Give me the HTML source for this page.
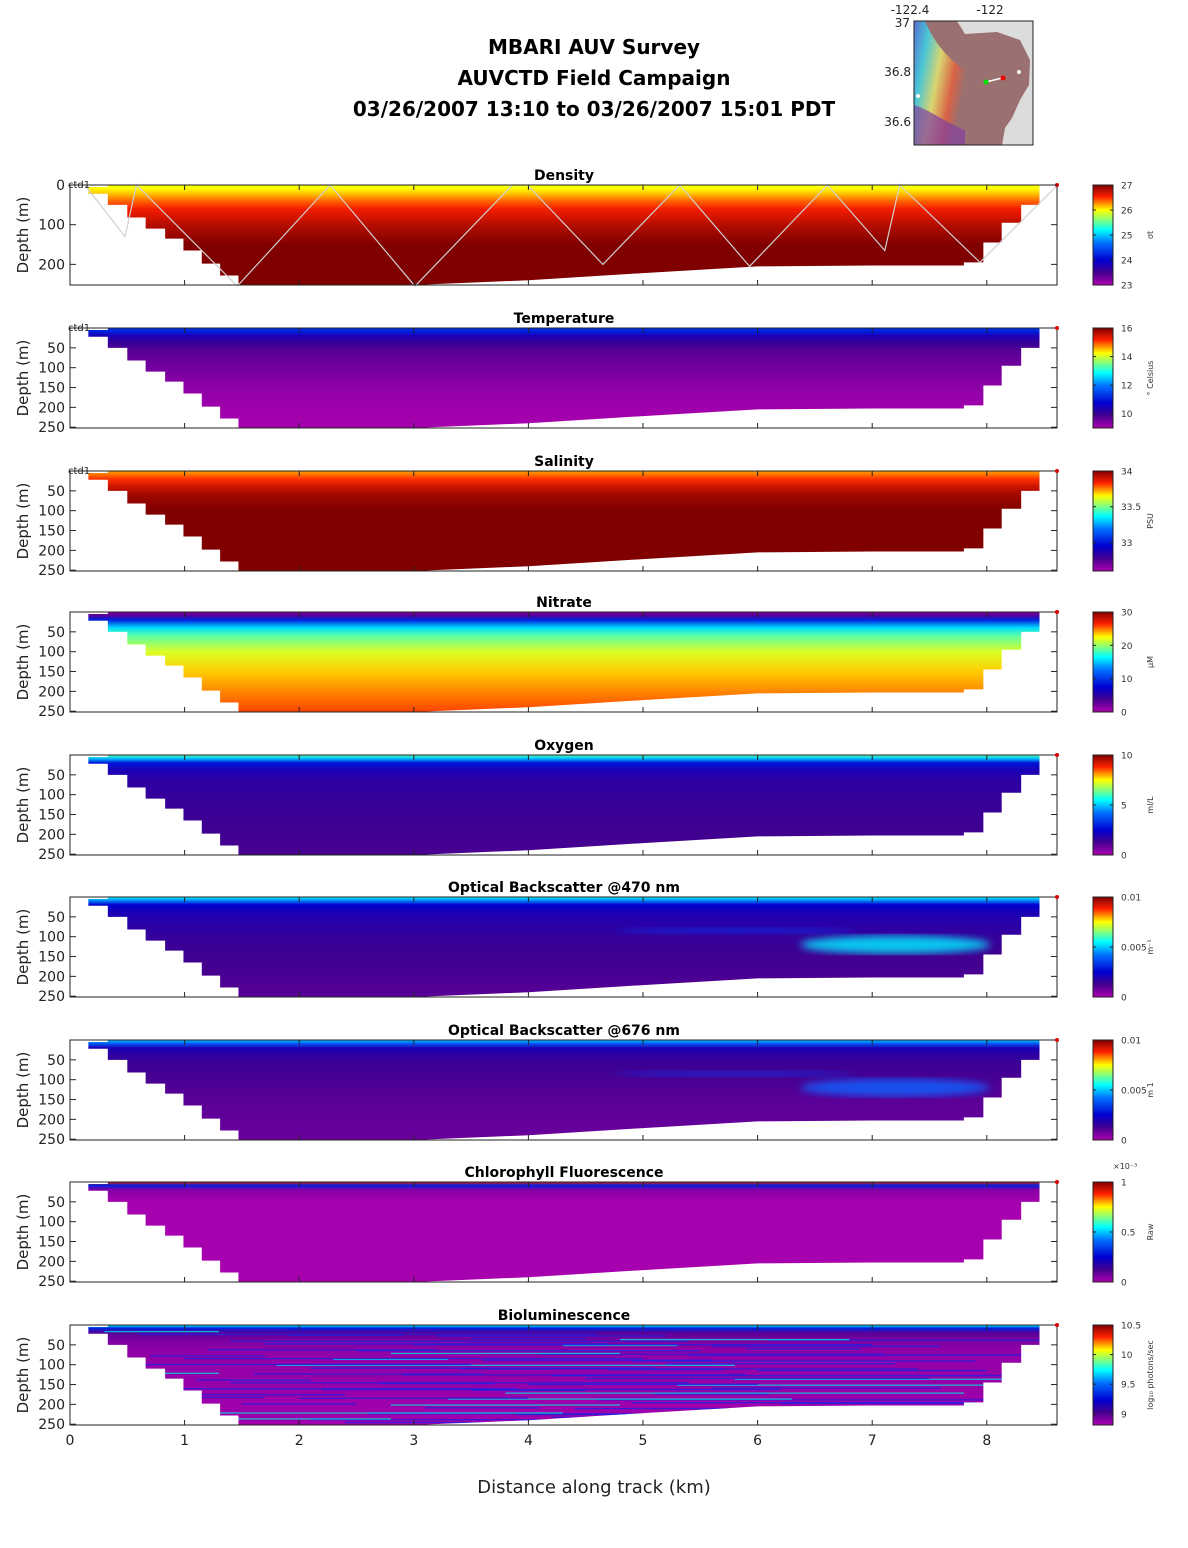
<!DOCTYPE html>
<html><head><meta charset="utf-8">
<style>
html,body{margin:0;padding:0;background:#fff;}
svg{display:block;font-family:"DejaVu Sans","Liberation Sans",sans-serif;}
</style></head>
<body>
<svg id="fig" width="1188" height="1548" viewBox="0 0 1188 1548" xmlns="http://www.w3.org/2000/svg">
<defs>
<linearGradient id="jet" x1="0" y1="1" x2="0" y2="0">
<stop offset="0" stop-color="#b000b0"/><stop offset="0.13" stop-color="#400090"/><stop offset="0.25" stop-color="#0000d0"/><stop offset="0.42" stop-color="#0070ff"/><stop offset="0.55" stop-color="#00ffff"/><stop offset="0.66" stop-color="#90ff70"/><stop offset="0.75" stop-color="#ffff00"/><stop offset="0.88" stop-color="#ff2000"/><stop offset="1" stop-color="#800000"/>
</linearGradient>
<filter id="blur"><feGaussianBlur stdDeviation="4"/></filter>
<linearGradient id="land" x1="0" y1="0" x2="1" y2="0.3">
<stop offset="0" stop-color="#5070e0"/><stop offset="0.2" stop-color="#40d0e0"/><stop offset="0.4" stop-color="#e0e070"/><stop offset="0.6" stop-color="#e06040"/><stop offset="0.75" stop-color="#9a7070"/>
</linearGradient>
</defs>
<g font-weight="bold" font-size="20" text-anchor="middle" fill="#000">
<text x="594" y="54">MBARI AUV Survey</text>
<text x="594" y="85">AUVCTD Field Campaign</text>
<text x="594" y="116">03/26/2007 13:10  to 03/26/2007 15:01 PDT</text>
</g>
<g>
<rect x="914" y="21" width="119" height="124" fill="#dcdcdc"/>
<path d="M914 21 H957 L965 34 L997 32 L1020 40 L1030 60 L1029 85 L1020 100 L1012 118 L1005 128 L1002 145 H914 Z" fill="#9a7070"/>
<path d="M914 21 H925 C935 45 950 60 965 70 C975 80 985 85 990 95 C980 110 990 130 985 145 H914 Z" fill="url(#land)" opacity="0.9"/>
<path d="M914 105 C930 110 950 125 965 130 V145 H914 Z" fill="#8040a0" opacity="0.7"/>
<line x1="986" y1="82" x2="1002" y2="78" stroke="#fff" stroke-width="1.5"/>
<circle cx="986" cy="82" r="2.5" fill="#00e000"/><circle cx="1003" cy="78" r="2.5" fill="#f00000"/>
<circle cx="1019" cy="72" r="2" fill="#fff"/><circle cx="918" cy="96" r="2" fill="#fff"/>
<rect x="914" y="21" width="119" height="124" fill="none" stroke="#222" stroke-width="1"/>
<g font-size="12" fill="#222"><text x="910" y="14" text-anchor="middle">-122.4</text><text x="990" y="14" text-anchor="middle">-122</text>
<text x="910" y="27" text-anchor="end">37</text><text x="911" y="76" text-anchor="end">36.8</text><text x="911" y="126" text-anchor="end">36.6</text></g>
</g>
<g id="panels"></g>
<g id="xaxis"></g>
<text x="594" y="1493" font-size="18" text-anchor="middle" fill="#222">Distance along track (km)</text>
</svg>
<script>
// ---- data ----
const xTicks=[0,1,2,3,4,5,6,7,8];
const stepEdgesLeft=[0.16,0.33,0.5,0.66,0.83,0.99,1.15,1.31,1.47];
const stepDepthsLeft=[22,50,82,110,135,165,198,228,252];
const slopeDist=[3.0,4.0,5.0,6.0,7.0,7.8];
const slopeDepth=[252,240,222,205,203,203];
const stepEdgesRight=[7.8,7.97,8.13,8.3,8.46];
const stepDepthsRight=[195,145,95,50];
const trackDist=[0.13,0.48,0.58,1.46,2.27,3.01,3.86,3.99,4.65,5.32,5.93,6.61,7.11,7.24,7.94,8.62];
const trackDepth=[0,130,0,255,0,255,0,0,200,0,205,0,165,0,195,0];
const panelTitles=["Density","Temperature","Salinity","Nitrate","Oxygen","Optical Backscatter @470 nm","Optical Backscatter @676 nm","Chlorophyll Fluorescence","Bioluminescence"];
const cbMin=[23,9,32.6,0,0,0,0,0,8.81];
const cbMax=[27,16,34,30,10,0.01,0.01,1,10.5];
const cbTicks=[[23,24,25,26,27],[10,12,14,16],[33,33.5,34],[0,10,20,30],[0,5,10],[0,0.005,0.01],[0,0.005,0.01],[0,0.5,1],[9,9.5,10,10.5]];
const cbUnits=["σt","° Celsius","PSU","μM","ml/L","m⁻¹","m 1","Raw","log₁₀ photons/sec"];
// vertical profiles: depth (m) -> colormap fraction
const profDepth=[0,8,20,40,60,100,150,200,255];
const profFrac=[
 [0.74,0.75,0.78,0.84,0.89,0.95,1,1,1],
 [0.33,0.3,0.2,0.14,0.1,0.07,0.04,0.02,0.01],
 [0.8,0.83,0.87,0.93,0.97,1,1,1,1],
 [0.05,0.1,0.3,0.52,0.62,0.72,0.78,0.82,0.86],
 [0.62,0.5,0.28,0.2,0.17,0.15,0.14,0.13,0.12],
 [0.55,0.45,0.25,0.2,0.18,0.15,0.13,0.12,0.1],
 [0.5,0.4,0.2,0.16,0.14,0.12,0.1,0.09,0.08],
 [0.9,0.3,0.05,0.02,0.01,0.01,0.01,0.01,0.01],
 [0.55,0.3,0.1,0.06,0.04,0.03,0.03,0.02,0.02]];
// ---- layout ----
const X0=70,X1=1057,KM=114.6,DMAX=252,PH=100;
const tops=[185,328,471,612,755,897,1040,1182,1325];
const xs=d=>X0+d*KM;
const NS="http://www.w3.org/2000/svg";
function el(t,a,p){const e=document.createElementNS(NS,t);for(const k in a)e.setAttribute(k,a[k]);if(p)p.appendChild(e);return e;}
const jetStops=[[0,[176,0,176]],[0.13,[64,0,144]],[0.25,[0,0,208]],[0.42,[0,112,255]],[0.55,[0,255,255]],[0.66,[144,255,112]],[0.75,[255,255,0]],[0.88,[255,32,0]],[1,[128,0,0]]];
function jet(f){f=Math.max(0,Math.min(1,f));for(let i=1;i<jetStops.length;i++){if(f<=jetStops[i][0]){const a=jetStops[i-1],b=jetStops[i],t=(f-a[0])/(b[0]-a[0]);return 'rgb('+a[1].map((v,j)=>Math.round(v+(b[1][j]-v)*t)).join(',')+')';}}return 'rgb(128,0,0)';}
const defs=document.querySelector('defs');
const root=document.getElementById('panels');
function sectionPath(top){
 const ys=d=>top+d/DMAX*PH;
 let p='M'+xs(0.16)+' '+ys(5)+' L'+xs(0.33)+' '+ys(5)+' L'+xs(0.33)+' '+ys(0)+' L'+xs(8.46)+' '+ys(0);
 for(let i=stepDepthsRight.length-1;i>=0;i--){p+=' L'+xs(stepEdgesRight[i+1])+' '+ys(stepDepthsRight[i])+' L'+xs(stepEdgesRight[i])+' '+ys(stepDepthsRight[i]);}
 for(let i=slopeDist.length-1;i>=0;i--)p+=' L'+xs(slopeDist[i])+' '+ys(slopeDepth[i]);
 for(let i=stepDepthsLeft.length-1;i>=0;i--){p+=' L'+xs(stepEdgesLeft[i])+' '+ys(stepDepthsLeft[i]);if(i>0)p+=' L'+xs(stepEdgesLeft[i])+' '+ys(stepDepthsLeft[i-1]);}
 return p+' Z';
}
tops.forEach((top,k)=>{
 const g=el('g',{},root);
 
 
 const gid='pg'+k;
 const lg=el('linearGradient',{id:gid,gradientUnits:'userSpaceOnUse',x1:0,y1:top,x2:0,y2:top+PH},defs);
 profDepth.forEach((d,i)=>el('stop',{offset:d/DMAX>1?1:d/DMAX,'stop-color':jet(profFrac[k][i])},lg));
 const cp=el('clipPath',{id:'cp'+k},defs);
 el('path',{d:sectionPath(top)},cp);
 const sec=el('g',{'clip-path':'url(#cp'+k+')'},g);
 const r=el('rect',{x:X0,y:top,width:X1-X0,height:PH,fill:'url(#'+gid+')'},sec);
 
 
 if(k===5||k===6){
  const c=k===5?'#00e8ff':'#1060ff';
  el('ellipse',{cx:xs(7.2),cy:top+120/DMAX*PH,rx:95,ry:9,fill:c,filter:'url(#blur)',opacity:0.85},sec);
  el('ellipse',{cx:xs(5.8),cy:top+85/DMAX*PH,rx:120,ry:3,fill:'#0040ff',filter:'url(#blur)',opacity:0.6},sec);
 }
 if(k===8){
  for(let i=0;i<70;i++){const d=15+((i*37)%235);const x0=0.3+((i*53)%60)/10;
   el('rect',{x:xs(x0),y:top+d/DMAX*PH,width:KM*(1+(i%4)),height:1.3,fill:i%5===0?'#00e0e0':'#2020e0',opacity:0.8},sec);}
 }
 if(k===0){
  let pts=trackDist.map((d,i)=>xs(d)+','+(top+trackDepth[i]/DMAX*PH)).join(' ');
  const pl=el('polyline',{points:pts,fill:'none',stroke:'#d0d0d0','stroke-width':1.2},g);
  
  
 }
 el('rect',{x:X0,y:top,width:X1-X0,height:PH,fill:'none',stroke:'#222','stroke-width':1},g);
 el('circle',{cx:X1,cy:top,r:2,fill:'#e00000'},g);
 const dt=k===0?[0,100,200]:[50,100,150,200,250];
 dt.forEach(d=>{const y=top+d/DMAX*PH;el('line',{x1:X0,x2:X0+6,y1:y,y2:y,stroke:'#222'},g);el('line',{x1:X1,x2:X1-6,y1:y,y2:y,stroke:'#222'},g);
  const t=el('text',{x:X0-5,y:y+5,'font-size':14,'text-anchor':'end',fill:'#222'},g);t.textContent=d;});
 xTicks.forEach(v=>{const x=xs(v);el('line',{x1:x,x2:x,y1:top,y2:top+5,stroke:'#222'},g);el('line',{x1:x,x2:x,y1:top+PH,y2:top+PH-5,stroke:'#222'},g);});
 const yl=el('text',{x:0,y:0,transform:'translate(28,'+(top+50)+') rotate(-90)','font-size':15,'text-anchor':'middle',fill:'#222'},g);yl.textContent='Depth (m)';
 
 
 const tt=el('text',{x:564,y:top-5,'font-size':14,'font-weight':'bold','text-anchor':'middle',fill:'#000'},g);tt.textContent=panelTitles[k];
 
 
 if(k<3){const c=el('text',{x:68,y:top+3,'font-size':10,fill:'#222'},g);c.textContent='ctd1';}
 const cb=el('g',{},g);
 
 
 el('rect',{x:1093,y:top,width:20,height:PH,fill:'url(#jet)',stroke:'#222','stroke-width':1},cb);
 const cy=v=>top+PH-(v-cbMin[k])/(cbMax[k]-cbMin[k])*PH;
 cbTicks[k].forEach(v=>{const y=cy(v);el('line',{x1:1093,x2:1096,y1:y,y2:y,stroke:'#222'},cb);el('line',{x1:1113,x2:1110,y1:y,y2:y,stroke:'#222'},cb);
  const t=el('text',{x:1121,y:y+3.5,'font-size':9,fill:'#333'},cb);t.textContent=v;});
 const u=el('text',{x:0,y:0,transform:'translate(1153,'+(top+50)+') rotate(-90)','font-size':8,'text-anchor':'middle',fill:'#333'},cb);u.textContent=cbUnits[k];
 if(k===7){const e=el('text',{x:1113,y:top-13,'font-size':8,fill:'#333'},cb);e.textContent='×10⁻³';}
});
const xa=document.getElementById('xaxis');
xTicks.forEach(v=>{const t=el('text',{x:xs(v),y:1445,'font-size':14,'text-anchor':'middle',fill:'#222'},xa);t.textContent=v;});
</script>
</body></html>
